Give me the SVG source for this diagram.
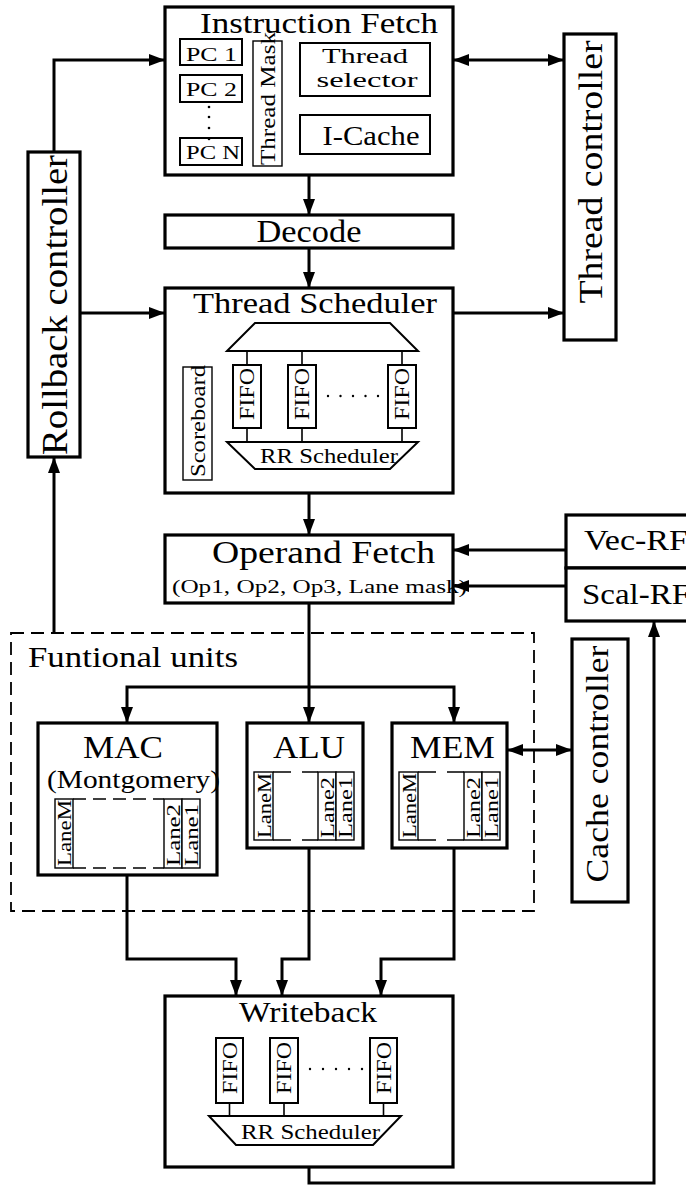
<svg xmlns="http://www.w3.org/2000/svg" width="686" height="1185" viewBox="0 0 686 1185">
<style>
.box{fill:#fff;stroke:#000;stroke-width:3.2}
.ibox{fill:#fff;stroke:#000;stroke-width:2}
.tbox{fill:#fff;stroke:#000;stroke-width:1.4}
.ln{fill:none;stroke:#000;stroke-width:3}
.thin{fill:none;stroke:#000;stroke-width:1.6}
.dash{fill:none;stroke:#000;stroke-width:1.8;stroke-dasharray:13 7}
.ldash{fill:none;stroke:#000;stroke-width:1.4;stroke-dasharray:13 7}
text{font-family:"Liberation Serif","Times New Roman",serif;fill:#000}
</style>
<defs>
<marker id="ah" markerUnits="userSpaceOnUse" markerWidth="16" markerHeight="12" refX="16" refY="6" orient="auto-start-reverse"><path d="M0,0 L16,6 L0,12 z" fill="#000"/></marker>
</defs>
<rect width="686" height="1185" fill="#fff"/>

<g id="functional-units">
<rect x="11" y="633" width="523" height="278" class="dash"/>
<text x="28" y="667" font-size="29" textLength="210" lengthAdjust="spacingAndGlyphs">Funtional units</text>
</g>

<g id="connectors">
<path class="ln" d="M54,152 V60 H165" marker-end="url(#ah)"/>
<path class="ln" d="M80,313 H165" marker-end="url(#ah)"/>
<path class="ln" d="M54,633 V457" marker-end="url(#ah)"/>
<path class="ln" d="M453,60 H564" marker-start="url(#ah)" marker-end="url(#ah)"/>
<path class="ln" d="M453,313 H564" marker-end="url(#ah)"/>
<path class="ln" d="M309,175 V215" marker-end="url(#ah)"/>
<path class="ln" d="M309,248 V288" marker-end="url(#ah)"/>
<path class="ln" d="M309,493 V535" marker-end="url(#ah)"/>
<path class="ln" d="M566,550 H453" marker-end="url(#ah)"/>
<path class="ln" d="M566,586 H453" marker-end="url(#ah)"/>
<path class="ln" d="M309,603 V723" marker-end="url(#ah)"/>
<path class="ln" d="M127,723 V687 H454 V723" marker-start="url(#ah)" marker-end="url(#ah)"/>
<path class="ln" d="M507,750 H572" marker-start="url(#ah)" marker-end="url(#ah)"/>
<path class="ln" d="M127,875 V959 H236 V996" marker-end="url(#ah)"/>
<path class="ln" d="M309,848 V959 H282 V996" marker-end="url(#ah)"/>
<path class="ln" d="M454,848 V959 H381 V996" marker-end="url(#ah)"/>
<path class="ln" d="M309,1167 V1183 H654 V621" marker-end="url(#ah)"/>
</g>

<g id="instruction-fetch">
<rect x="165" y="7" width="288" height="168" class="box"/>
<text x="200" y="33" font-size="30" textLength="238" lengthAdjust="spacingAndGlyphs">Instruction Fetch</text>
<rect x="180" y="39" width="62" height="26" class="ibox"/>
<text x="186" y="61" font-size="19" textLength="51" lengthAdjust="spacingAndGlyphs">PC 1</text>
<rect x="180" y="75" width="62" height="27" class="ibox"/>
<text x="186" y="96" font-size="19" textLength="51" lengthAdjust="spacingAndGlyphs">PC 2</text>
<rect x="180" y="138" width="62" height="27" class="ibox"/>
<text x="186" y="159" font-size="19" textLength="54" lengthAdjust="spacingAndGlyphs">PC N</text>
<circle cx="209" cy="107" r="1.3"/><circle cx="209" cy="117" r="1.3"/><circle cx="209" cy="128" r="1.3"/><circle cx="209" cy="139" r="1.3"/>
<rect x="253" y="41" width="29" height="125" class="tbox"/>
<text transform="translate(275,165) rotate(-90)" font-size="21" textLength="133" lengthAdjust="spacingAndGlyphs">Thread Mask</text>
<rect x="300" y="43" width="130" height="53" class="ibox"/>
<text x="365" y="63" font-size="21" text-anchor="middle" textLength="86" lengthAdjust="spacingAndGlyphs">Thread</text>
<text x="367" y="87" font-size="21" text-anchor="middle" textLength="101" lengthAdjust="spacingAndGlyphs">selector</text>
<rect x="300" y="115" width="130" height="39" class="ibox"/>
<text x="371" y="145" font-size="27" text-anchor="middle" textLength="97" lengthAdjust="spacingAndGlyphs">I-Cache</text>
</g>

<g id="decode">
<rect x="165" y="215" width="288" height="33" class="box"/>
<text x="309" y="242" font-size="32" text-anchor="middle" textLength="105" lengthAdjust="spacingAndGlyphs">Decode</text>
</g>

<g id="thread-scheduler">
<rect x="165" y="288" width="288" height="205" class="box"/>
<text x="193" y="313" font-size="30" textLength="244" lengthAdjust="spacingAndGlyphs">Thread Scheduler</text>
<polygon points="255,323 390,323 418,351 227,351" class="ibox"/>
<path class="thin" d="M247,351V365 M302,351V365 M402,351V365 M247,428V442 M302,428V442 M402,428V442"/>
<rect x="233" y="365" width="28" height="63" class="ibox"/>
<rect x="288" y="365" width="28" height="63" class="ibox"/>
<rect x="388" y="365" width="28" height="63" class="ibox"/>
<text transform="translate(254,394) rotate(-90)" font-size="20" text-anchor="middle" textLength="52" lengthAdjust="spacingAndGlyphs">FIFO</text>
<text transform="translate(309,394) rotate(-90)" font-size="20" text-anchor="middle" textLength="52" lengthAdjust="spacingAndGlyphs">FIFO</text>
<text transform="translate(409,394) rotate(-90)" font-size="20" text-anchor="middle" textLength="52" lengthAdjust="spacingAndGlyphs">FIFO</text>
<circle cx="328" cy="396" r="1.2"/><circle cx="340.5" cy="396" r="1.2"/><circle cx="353" cy="396" r="1.2"/><circle cx="365.5" cy="396" r="1.2"/><circle cx="378" cy="396" r="1.2"/>
<polygon points="227,442 418,442 390,469 255,469" class="ibox"/>
<text x="260" y="463" font-size="21" textLength="138" lengthAdjust="spacingAndGlyphs">RR Scheduler</text>
<rect x="183" y="367" width="29" height="113" class="tbox"/>
<text transform="translate(205,421) rotate(-90)" font-size="21" text-anchor="middle" textLength="112" lengthAdjust="spacingAndGlyphs">Scoreboard</text>
</g>

<g id="rollback-controller">
<rect x="28" y="152" width="52" height="305" class="box"/>
<text transform="translate(67,305) rotate(-90)" font-size="35" text-anchor="middle" textLength="300" lengthAdjust="spacingAndGlyphs">Rollback controller</text>
</g>

<g id="thread-controller">
<rect x="564" y="34" width="52" height="306" class="box"/>
<text transform="translate(602,172) rotate(-90)" font-size="33" text-anchor="middle" textLength="263" lengthAdjust="spacingAndGlyphs">Thread controller</text>
</g>

<g id="operand-fetch">
<rect x="165" y="535" width="288" height="68" class="box"/>
<text x="212" y="563" font-size="32" textLength="223" lengthAdjust="spacingAndGlyphs">Operand Fetch</text>
<text x="172" y="593" font-size="18" textLength="295" lengthAdjust="spacingAndGlyphs">(Op1, Op2, Op3, Lane mask)</text>
</g>

<g id="register-files">
<rect x="566" y="515" width="140" height="53" class="box"/>
<text x="584" y="550" font-size="30" textLength="104" lengthAdjust="spacingAndGlyphs">Vec-RF</text>
<rect x="566" y="568" width="140" height="53" class="box"/>
<text x="582" y="604" font-size="30" textLength="108" lengthAdjust="spacingAndGlyphs">Scal-RF</text>
</g>

<g id="cache-controller">
<rect x="572" y="639" width="56" height="263" class="box"/>
<text transform="translate(608,764) rotate(-90)" font-size="32" text-anchor="middle" textLength="237" lengthAdjust="spacingAndGlyphs">Cache controller</text>
</g>

<g id="mac">
<rect x="38" y="723" width="179" height="152" class="box"/>
<text x="83" y="758" font-size="32" textLength="80" lengthAdjust="spacingAndGlyphs">MAC</text>
<text x="47" y="788" font-size="26" textLength="173" lengthAdjust="spacingAndGlyphs">(Montgomery)</text>
<path class="ldash" d="M73,799 H164 M73,868 H164"/>
<rect x="55" y="799" width="18" height="69" class="tbox"/>
<rect x="164" y="799" width="18" height="69" class="tbox"/>
<rect x="182" y="799" width="18" height="69" class="tbox"/>
<text transform="translate(71,866) rotate(-90)" font-size="18" textLength="66" lengthAdjust="spacingAndGlyphs">LaneM</text>
<text transform="translate(180,866) rotate(-90)" font-size="18" textLength="62" lengthAdjust="spacingAndGlyphs">Lane2</text>
<text transform="translate(198,866) rotate(-90)" font-size="18" textLength="62" lengthAdjust="spacingAndGlyphs">Lane1</text>
</g>

<g id="alu">
<rect x="247" y="723" width="116" height="125" class="box"/>
<text x="273" y="758" font-size="32" textLength="72" lengthAdjust="spacingAndGlyphs">ALU</text>
<path class="thin" style="stroke-width:1.4" d="M273,772 H291 M302,772 H318 M273,840 H291 M302,840 H318"/>
<rect x="254" y="772" width="19" height="68" class="tbox"/>
<rect x="318" y="772" width="18" height="68" class="tbox"/>
<rect x="336" y="772" width="18" height="68" class="tbox"/>
<text transform="translate(271,838) rotate(-90)" font-size="18" textLength="65" lengthAdjust="spacingAndGlyphs">LaneM</text>
<text transform="translate(334,838) rotate(-90)" font-size="18" textLength="61" lengthAdjust="spacingAndGlyphs">Lane2</text>
<text transform="translate(352,838) rotate(-90)" font-size="18" textLength="61" lengthAdjust="spacingAndGlyphs">Lane1</text>
</g>

<g id="mem">
<rect x="392" y="723" width="115" height="125" class="box"/>
<text x="410" y="758" font-size="32" textLength="85" lengthAdjust="spacingAndGlyphs">MEM</text>
<path class="thin" style="stroke-width:1.4" d="M418,772 H436 M447,772 H464 M418,840 H436 M447,840 H464"/>
<rect x="399" y="772" width="19" height="68" class="tbox"/>
<rect x="464" y="772" width="18" height="68" class="tbox"/>
<rect x="482" y="772" width="18" height="68" class="tbox"/>
<text transform="translate(416,838) rotate(-90)" font-size="18" textLength="65" lengthAdjust="spacingAndGlyphs">LaneM</text>
<text transform="translate(480,838) rotate(-90)" font-size="18" textLength="61" lengthAdjust="spacingAndGlyphs">Lane2</text>
<text transform="translate(498,838) rotate(-90)" font-size="18" textLength="61" lengthAdjust="spacingAndGlyphs">Lane1</text>
</g>

<g id="writeback">
<rect x="165" y="996" width="288" height="171" class="box"/>
<text x="239" y="1022" font-size="30" textLength="138" lengthAdjust="spacingAndGlyphs">Writeback</text>
<path class="thin" d="M229.5,1103V1116 M284,1103V1116 M383.5,1103V1116"/>
<rect x="216" y="1038" width="27" height="65" class="ibox"/>
<rect x="270" y="1038" width="28" height="65" class="ibox"/>
<rect x="370" y="1038" width="27" height="65" class="ibox"/>
<text transform="translate(237,1068) rotate(-90)" font-size="20" text-anchor="middle" textLength="52" lengthAdjust="spacingAndGlyphs">FIFO</text>
<text transform="translate(291,1068) rotate(-90)" font-size="20" text-anchor="middle" textLength="52" lengthAdjust="spacingAndGlyphs">FIFO</text>
<text transform="translate(391,1068) rotate(-90)" font-size="20" text-anchor="middle" textLength="52" lengthAdjust="spacingAndGlyphs">FIFO</text>
<circle cx="310" cy="1069" r="1.2"/><circle cx="323" cy="1069" r="1.2"/><circle cx="336" cy="1069" r="1.2"/><circle cx="349" cy="1069" r="1.2"/><circle cx="362" cy="1069" r="1.2"/>
<polygon points="209,1116 401,1116 373,1145 236,1145" class="ibox"/>
<text x="241" y="1139" font-size="21" textLength="139" lengthAdjust="spacingAndGlyphs">RR Scheduler</text>
</g>
</svg>
